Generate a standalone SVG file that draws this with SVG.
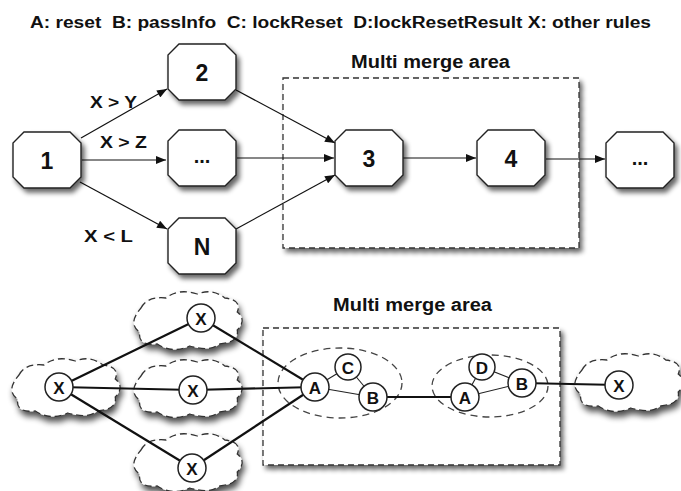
<svg xmlns="http://www.w3.org/2000/svg" xmlns:xlink="http://www.w3.org/1999/xlink" width="681" height="491" viewBox="0 0 681 491">
<style>
  text { font-family: "Liberation Sans", Arial, sans-serif; font-weight: bold; fill: #111; white-space: pre; }
  .legend { font-size: 16px; }
  .title { font-size: 18px; }
  .lbl { font-size: 17px; }
  .oct { fill: #fff; stroke: #222; stroke-width: 1.4; filter: url(#shadow); }
  .octtxt { font-size: 23px; text-anchor: middle; dominant-baseline: central; }
  .area { fill: #fff; stroke: #333; stroke-width: 1.3; stroke-dasharray: 6 4; filter: url(#shadow); }
  .cloud { fill: #fff; stroke: #333; stroke-width: 1.3; stroke-dasharray: 7 4; filter: url(#cshadow); }
  .grp { fill: none; stroke: #444; stroke-width: 1.3; stroke-dasharray: 7 5; }
  .circ { fill: #fff; stroke: #222; stroke-width: 1.5; }
  .ctxt { font-size: 17px; text-anchor: middle; dominant-baseline: central; }
  .arrow { stroke: #111; stroke-width: 1.2; fill: none; marker-end: url(#ah); }
  .thick { stroke: #111; stroke-width: 2.2; fill: none; }
  .thin { stroke: #222; stroke-width: 1.1; fill: none; }
</style>
<defs>
  <filter id="shadow" x="-20%" y="-20%" width="150%" height="150%">
    <feGaussianBlur in="SourceAlpha" stdDeviation="2.5"/>
    <feOffset dx="3" dy="4" result="b"/>
    <feComponentTransfer><feFuncA type="linear" slope="0.6"/></feComponentTransfer>
    <feMerge><feMergeNode/><feMergeNode in="SourceGraphic"/></feMerge>
  </filter>
  <filter id="cshadow" x="-20%" y="-20%" width="150%" height="160%">
    <feGaussianBlur in="SourceAlpha" stdDeviation="3"/>
    <feOffset dx="2" dy="5" result="b"/>
    <feComponentTransfer><feFuncA type="linear" slope="0.7"/></feComponentTransfer>
    <feMerge><feMergeNode/><feMergeNode in="SourceGraphic"/></feMerge>
  </filter>
  <polygon id="oct" points="-23,-28 23,-28 34,-17 34,17 23,28 -23,28 -34,17 -34,-17"/>
  <path id="cloudp" d="M -50,-16 q 6.25,-12 25,-10 q 12.5,-10 31.25,-4 q 15,-6 27.5,4 q 17.5,2 12.5,14 q 10,8 0,18 q 2.5,12 -17.5,14 q -10,8 -30,2 q -17.5,8 -32.5,-2 q -20,2 -17.5,-12 q -12.5,-8 1.25,-24 z"/>
  <marker id="ah" viewBox="0 0 10 8" refX="10" refY="4" markerWidth="11" markerHeight="8" markerUnits="userSpaceOnUse" orient="auto">
    <path d="M0,0 L10,4 L0,8 z" fill="#111"/>
  </marker>
</defs>

<rect width="681" height="491" fill="#fff"/>

<text class="legend" x="30" y="28" textLength="621" lengthAdjust="spacingAndGlyphs">A: reset  B: passInfo  C: lockReset  D:lockResetResult X: other rules</text>

<!-- Top section -->
<g id="area1">
  <rect class="area" x="283" y="78" width="296" height="170"/>
  <text class="title" x="351" y="68" textLength="159" lengthAdjust="spacingAndGlyphs">Multi merge area</text>
</g>

<g id="connectors-top">
  <line class="arrow" x1="81" y1="138" x2="167" y2="89"/>
  <line class="arrow" x1="82" y1="160" x2="166" y2="160"/>
  <line class="arrow" x1="80" y1="182" x2="167" y2="229"/>
  <line class="arrow" x1="236" y1="90" x2="335" y2="143"/>
  <line class="arrow" x1="237" y1="158" x2="334" y2="158"/>
  <line class="arrow" x1="236" y1="229" x2="335" y2="175"/>
  <line class="arrow" x1="403" y1="158" x2="476" y2="158"/>
  <line class="arrow" x1="546" y1="159" x2="605" y2="159"/>
  <text class="lbl" x="90" y="108" textLength="47" lengthAdjust="spacingAndGlyphs">X &gt; Y</text>
  <text class="lbl" x="100" y="148" textLength="47" lengthAdjust="spacingAndGlyphs">X &gt; Z</text>
  <text class="lbl" x="84" y="242" textLength="49" lengthAdjust="spacingAndGlyphs">X &lt; L</text>
</g>

<g id="n1" transform="translate(47,160)"><use href="#oct" class="oct"/><text class="octtxt" x="0" y="1">1</text></g>
<g id="n2" transform="translate(202,72)"><use href="#oct" class="oct"/><text class="octtxt" x="0" y="1">2</text></g>
<g id="nmid" transform="translate(202,158)"><use href="#oct" class="oct"/><text class="octtxt" x="0" y="-2" style="font-size:20px">...</text></g>
<g id="nN" transform="translate(202,246)"><use href="#oct" class="oct"/><text class="octtxt" x="0" y="1">N</text></g>
<g id="n3" transform="translate(369,158)"><use href="#oct" class="oct"/><text class="octtxt" x="0" y="1">3</text></g>
<g id="n4" transform="translate(511,158)"><use href="#oct" class="oct"/><text class="octtxt" x="0" y="1">4</text></g>
<g id="nend" transform="translate(640,160)"><use href="#oct" class="oct"/><text class="octtxt" x="0" y="-2" style="font-size:20px">...</text></g>

<!-- Bottom section -->
<g id="area2">
  <rect class="area" x="263" y="328" width="297" height="137"/>
  <text class="title" x="333" y="311" textLength="159" lengthAdjust="spacingAndGlyphs">Multi merge area</text>
</g>

<g id="clouds">
  <use href="#cloudp" class="cloud" transform="translate(69,391)"/>
  <use href="#cloudp" class="cloud" transform="translate(191,324)"/>
  <use href="#cloudp" class="cloud" transform="translate(191,392)"/>
  <use href="#cloudp" class="cloud" transform="translate(191,466)"/>
  <use href="#cloudp" class="cloud" transform="translate(632,386)"/>
</g>

<g id="groups">
  <ellipse class="grp" cx="340" cy="383" rx="62" ry="35"/>
  <ellipse class="grp" cx="490" cy="386" rx="58" ry="31"/>
</g>

<g id="connectors-bottom">
  <line class="thick" x1="59" y1="387" x2="201" y2="318"/>
  <line class="thick" x1="59" y1="387" x2="193" y2="390"/>
  <line class="thick" x1="59" y1="387" x2="192" y2="468"/>
  <line class="thick" x1="201" y1="318" x2="315" y2="387"/>
  <line class="thick" x1="193" y1="390" x2="315" y2="387"/>
  <line class="thick" x1="192" y1="468" x2="315" y2="387"/>
  <line class="thin" x1="315" y1="387" x2="348" y2="367"/>
  <line class="thin" x1="315" y1="387" x2="373" y2="397"/>
  <line class="thin" x1="348" y1="367" x2="373" y2="397"/>
  <line class="thick" x1="373" y1="397" x2="465" y2="397"/>
  <line class="thin" x1="465" y1="397" x2="482" y2="367"/>
  <line class="thin" x1="465" y1="397" x2="522" y2="383"/>
  <line class="thin" x1="482" y1="367" x2="522" y2="383"/>
  <line class="thick" x1="522" y1="383" x2="619" y2="385"/>
</g>

<g id="xL"><circle class="circ" cx="59" cy="387" r="14"/><text class="ctxt" x="59" y="388">X</text></g>
<g id="xT"><circle class="circ" cx="201" cy="318" r="14"/><text class="ctxt" x="201" y="319">X</text></g>
<g id="xM"><circle class="circ" cx="193" cy="390" r="14"/><text class="ctxt" x="193" y="391">X</text></g>
<g id="xB"><circle class="circ" cx="192" cy="468" r="14"/><text class="ctxt" x="192" y="469">X</text></g>
<g id="a1"><circle class="circ" cx="315" cy="387" r="14"/><text class="ctxt" x="315" y="388">A</text></g>
<g id="c1"><circle class="circ" cx="348" cy="367" r="13"/><text class="ctxt" x="348" y="368">C</text></g>
<g id="b1"><circle class="circ" cx="373" cy="397" r="14"/><text class="ctxt" x="373" y="398">B</text></g>
<g id="a2"><circle class="circ" cx="465" cy="397" r="14"/><text class="ctxt" x="465" y="398">A</text></g>
<g id="d2"><circle class="circ" cx="482" cy="367" r="13"/><text class="ctxt" x="482" y="368">D</text></g>
<g id="b2"><circle class="circ" cx="522" cy="383" r="14"/><text class="ctxt" x="522" y="384">B</text></g>
<g id="xR"><circle class="circ" cx="619" cy="385" r="14"/><text class="ctxt" x="619" y="386">X</text></g>
</svg>
